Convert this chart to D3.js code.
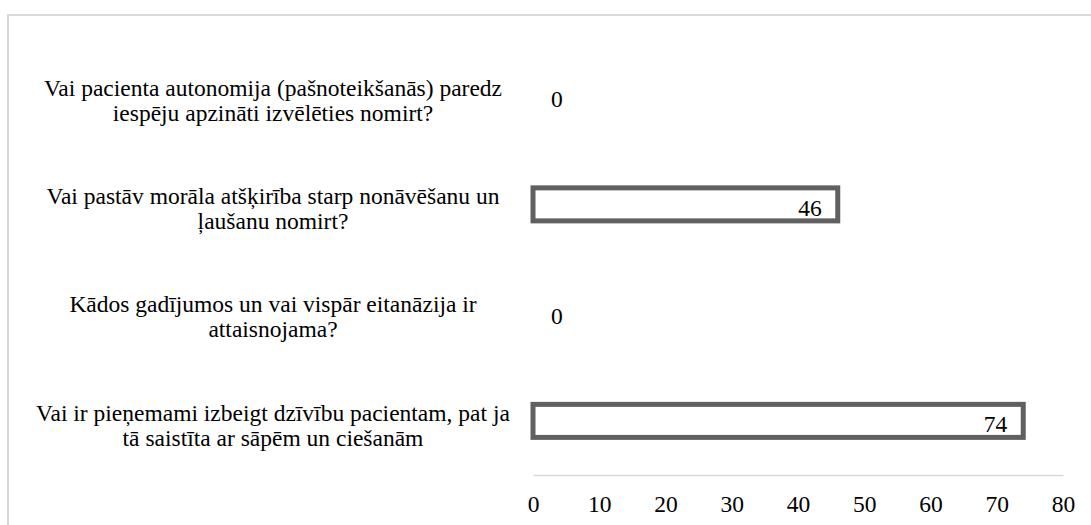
<!DOCTYPE html>
<html>
<head>
<meta charset="utf-8">
<script src="https://cdn.jsdelivr.net/npm/d3@7"></script>
<style>
  body { margin: 0; background: #fff; }
</style>
</head>
<body>
<svg class="chart" width="1091" height="525"></svg>
<script>
const categories = [
  ['Vai pacienta autonomija (pašnoteikšanās) paredz', 'iespēju apzināti izvēlēties nomirt?'],
  ['Vai pastāv morāla atšķirība starp nonāvēšanu un', 'ļaušanu nomirt?'],
  ['Kādos gadījumos un vai vispār eitanāzija ir', 'attaisnojama?'],
  ['Vai ir pieņemami izbeigt dzīvību pacientam, pat ja', 'tā saistīta ar sāpēm un ciešanām']
]
const values = [0, 46, 0, 74]
const ticks = [0, 10, 20, 30, 40, 50, 60, 70, 80]

const font = 'Liberation Serif'
const fs = 23.5
const data = categories.map((c, i) => ({key: i, lines: c, value: values[i]}))

const svg = d3.select('.chart')
const width = +svg.attr('width')
const height = +svg.attr('height')

// light frame of the chart area
svg.append('path')
  .attr('d', `M8,${height} L8,15 L${width},15`)
  .attr('fill', 'none')
  .attr('stroke', '#d9d9d9')
  .attr('stroke-width', 2)

const xScale = d3.scaleLinear()
  .domain([0, 80])
  .range([533, 1063])

const yScale = d3.scaleBand()
  .domain(data.map(d => d.key))
  .range([42, 475])
  .paddingInner(0.695)
  .paddingOuter(0.3475)

// bottom axis
const axis = svg.append('g')
  .attr('transform', `translate(0,475)`)
  .call(d3.axisBottom(xScale).tickValues(ticks).tickSize(0).tickPadding(20))
axis.attr('font-family', font).attr('font-size', fs)
axis.select('.domain').attr('stroke', '#d9d9d9').attr('stroke-width', 1.5)
axis.selectAll('text').attr('fill', '#000')

// bars
svg.selectAll('rect.bar')
  .data(data.filter(d => d.value > 0))
  .enter()
  .append('rect')
  .attr('class', 'bar')
  .attr('x', xScale(0))
  .attr('y', d => yScale(d.key))
  .attr('width', d => xScale(d.value) - xScale(0))
  .attr('height', yScale.bandwidth())
  .attr('fill', '#fff')
  .attr('stroke', '#606060')
  .attr('stroke-width', 5)

// value labels
svg.selectAll('text.val')
  .data(data)
  .enter()
  .append('text')
  .attr('class', 'val')
  .attr('x', d => d.value > 0 ? xScale(d.value) - 16 : xScale(0) + 18)
  .attr('y', d => yScale(d.key) + yScale.bandwidth() / 2 + 3)
  .attr('dy', '0.35em')
  .attr('text-anchor', d => d.value > 0 ? 'end' : 'start')
  .attr('font-family', font)
  .attr('font-size', fs)
  .text(d => d.value)

// category labels
const lab = svg.selectAll('text.cat')
  .data(data)
  .enter()
  .append('text')
  .attr('class', 'cat')
  .attr('text-anchor', 'middle')
  .attr('font-family', font)
  .attr('font-size', fs)

lab.selectAll('tspan')
  .data(d => d.lines.map((l, i) => ({l, i, n: d.lines.length, key: d.key})))
  .enter()
  .append('tspan')
  .attr('x', 273)
  .attr('y', t => yScale(t.key) + yScale.bandwidth() / 2 + 4 + (t.i - (t.n - 1) / 2) * 25)
  .attr('dy', '0.35em')
  .text(t => t.l)
</script>
</body>
</html>
